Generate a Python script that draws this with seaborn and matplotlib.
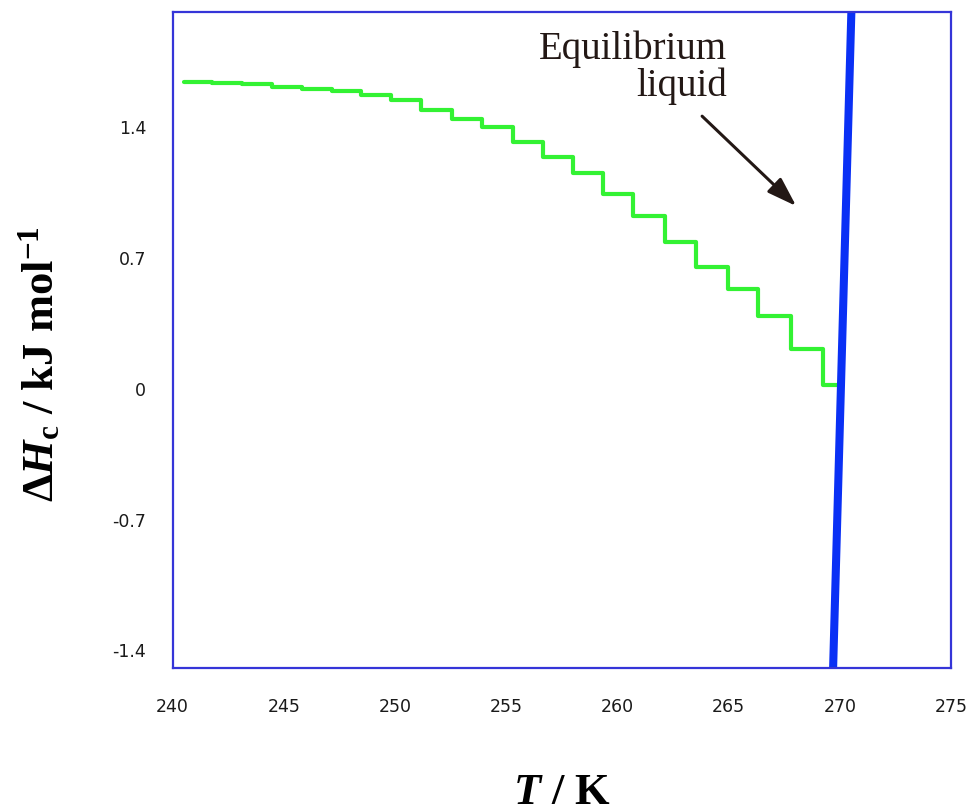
import matplotlib
matplotlib.use("Agg")
import matplotlib.pyplot as plt
import seaborn as sns
import pandas as pd

# Data
step_T = [240.53, 241.78, 243.11, 244.46, 245.81, 247.16, 248.46, 249.81, 251.16,
          252.55, 253.90, 255.30, 256.65, 257.99, 259.34, 260.72, 262.14, 263.54,
          264.99, 266.34, 267.80, 269.26, 270.00]
step_H = [1.635, 1.633, 1.625, 1.612, 1.602, 1.587, 1.566, 1.539, 1.487, 1.438,
          1.398, 1.318, 1.233, 1.148, 1.037, 0.918, 0.779, 0.648, 0.529, 0.383,
          0.205, 0.016]
liquid_T = [269.70, 270.52]
liquid_H = [-1.50, 2.01]
x_ticks = [240, 245, 250, 255, 260, 265, 270, 275]
y_ticks = [-1.4, -0.7, 0, 0.7, 1.4]
y_tick_labels = ["-1.4", "-0.7", "0", "0.7", "1.4"]
annot_text = "Equilibrium\nliquid"

sns.set_style("white")
plt.rcParams["mathtext.fontset"] = "custom"
plt.rcParams["mathtext.rm"] = "Liberation Serif:bold"
plt.rcParams["mathtext.it"] = "Liberation Serif:italic:bold"
plt.rcParams["mathtext.bf"] = "Liberation Serif:bold"
plt.rcParams["mathtext.default"] = "rm"

fig = plt.figure(figsize=(9.76, 8.12), dpi=100)
ax = fig.add_axes([172.5 / 976, 1 - 669 / 812, (951 - 172.5) / 976, (669 - 13.3) / 812])

df_step = pd.DataFrame({"T": step_T, "H": step_H + [step_H[-1]]})
df_liq = pd.DataFrame({"T": liquid_T, "H": liquid_H})

sns.lineplot(data=df_step, x="T", y="H", ax=ax, color="#33f233", lw=3.0,
             drawstyle="steps-post", estimator=None, sort=False)
sns.lineplot(data=df_liq, x="T", y="H", ax=ax, color="#0a30f5", lw=5.8,
             estimator=None, sort=False, solid_capstyle="butt")

ax.set_xlim(240, 275)
ax.set_ylim(-1.5, 2.01)
ax.set_xticks(x_ticks)
ax.set_xticklabels([str(t) for t in x_ticks])
ax.set_yticks(y_ticks)
ax.set_yticklabels(y_tick_labels)
ax.tick_params(axis="both", length=0, labelsize=12.5, labelcolor="#1a1a1a")
ax.tick_params(axis="x", pad=21)
ax.tick_params(axis="y", pad=19)
for lab in ax.get_xticklabels() + ax.get_yticklabels():
    lab.set_family("DejaVu Sans")

for sp in ax.spines.values():
    sp.set_visible(True)
    sp.set_color("#3535d8")
    sp.set_linewidth(1.6)

ax.set_xlabel(r"$\mathit{T}$ / K", fontsize=32, fontweight="bold", color="black",
              family="Liberation Serif", labelpad=41)
ax.set_ylabel(r"$\Delta\mathit{H}_{\mathrm{c}}$ / kJ mol$^{\mathrm{-1}}$", fontsize=32,
              color="black", fontweight="bold", family="Liberation Serif")
ax.yaxis.set_label_coords(-0.142, 0.465)

ax.text(264.93, 1.92, annot_text, ha="right", va="top", multialignment="right",
        fontsize=28, family="Liberation Serif", color="#231815", linespacing=0.98)
ax.annotate("", xy=(268.04, 0.973), xytext=(263.81, 1.454),
            arrowprops=dict(arrowstyle="-|>,head_length=0.9,head_width=0.3",
                            color="#231815", lw=2.2, shrinkA=0, shrinkB=0,
                            mutation_scale=20))

fig.savefig("out.png", dpi=100)
